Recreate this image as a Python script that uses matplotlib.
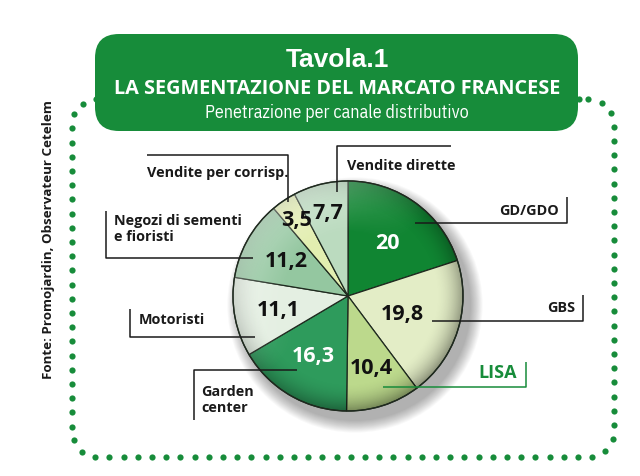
import matplotlib
matplotlib.use('Agg')
import matplotlib.pyplot as plt
import numpy as np
from matplotlib.patches import FancyBboxPatch, Circle

# dati (Promojardin, Observateur Cetelem)
canali = ['GD/GDO', 'GBS', 'LISA', 'Garden\ncenter', 'Motoristi',
          'Negozi di sementi\ne fioristi', 'Vendite per corrisp.', 'Vendite dirette']
quote = [20, 19.8, 10.4, 16.3, 11.1, 11.2, 3.5, 7.7]
etichette = ['20', '19,8', '10,4', '16,3', '11,1', '11,2', '3,5', '7,7']

colori = ['#108532', '#e3edc6', '#bcd98c', '#2e9b5c', '#e4efe2', '#94c7a0', '#e2eeb0', '#bbdbbf']
col_valori = ['white', '#111111', '#111111', 'white', '#111111', '#111111', '#111111', '#111111']
dist_valori = [0.58, 0.5, 0.65, 0.6, 0.62, 0.62, 0.8, 0.75]

COND = dict(family=['Open Sans', 'DejaVu Sans'], fontstretch='condensed', fontweight='bold')
COND_REG = dict(family=['IBM Plex Sans Condensed', 'Open Sans', 'DejaVu Sans'], fontweight='normal')
VERDE = '#178c3a'

# posizione testo e linea di richiamo per ogni canale (pixel)
richiami = [
    ((559, 211), 'right', [(415, 224), (567, 224), (567, 198)]),
    ((575, 308), 'right', [(432, 322), (583, 322), (583, 296)]),
    ((517, 373), 'right', [(383, 388), (526, 388), (526, 363)]),
    ((201, 400), 'left', [(297, 371), (194, 371), (194, 421)]),
    ((139, 320), 'left', [(255, 338), (130, 338), (130, 310)]),
    ((114, 229), 'left', [(253, 259), (106, 259), (106, 212)]),
    ((147, 173), 'left', [(147, 156), (288, 156), (288, 203)]),
    ((347, 166), 'left', [(451, 147), (337, 147), (337, 193)]),
]

W, H = 640, 477
cx, cy, r = 348, 297, 115

fig = plt.figure(figsize=(6.4, 4.77), dpi=100)
ax = fig.add_axes([0, 0, 1, 1])

# bordo a puntini
def rounded_path(x0, x1, y0, y1, rad, n=40):
    pts = []
    corners = [((x1 - rad, y0 + rad), -90, 0), ((x1 - rad, y1 - rad), 0, 90),
               ((x0 + rad, y1 - rad), 90, 180), ((x0 + rad, y0 + rad), 180, 270)]
    for (ccx, ccy), a0, a1 in corners:
        a = np.radians(np.linspace(a0, a1, n))
        pts += list(zip(ccx + rad * np.cos(a), ccy + rad * np.sin(a)))
    pts.append(pts[0])
    return np.array(pts)

path = rounded_path(72, 614, 100, 458, 26)
seg = np.hypot(*np.diff(path, axis=0).T)
s = np.concatenate([[0], np.cumsum(seg)])
passi = np.arange(0, s[-1], 14.2)
px = np.interp(passi, s, path[:, 0])
py = np.interp(passi, s, path[:, 1])
ax.scatter(px, py, s=20, color=VERDE, linewidths=0, zorder=1)

# riquadro titolo
box = FancyBboxPatch((95, 35), 483, 97, boxstyle='round,pad=0,rounding_size=24',
                     facecolor=VERDE, edgecolor='none', zorder=3)
ax.add_patch(box)
ax.text(337, 60, 'Tavola.1', color='white', fontsize=19, fontweight='bold',
        family=['Liberation Sans', 'DejaVu Sans'], ha='center', va='center', zorder=4)
ax.text(337, 89, 'LA SEGMENTAZIONE DEL MARCATO FRANCESE', color='white', fontsize=14.3,
        ha='center', va='center', zorder=4, **COND)
ax.text(337, 113, 'Penetrazione per canale distributivo', color='white', fontsize=13,
        ha='center', va='center', zorder=4, **COND_REG)

# fonte
ax.text(48, 240, 'Fonte: Promojardin, Observateur Cetelem', rotation=90, fontsize=9.6,
        color='#1a1a1a', ha='center', va='center', **COND)

# ombra della torta
for k in range(14):
    ax.add_patch(Circle((cx + 7, cy + 9), r + 1 + k * 0.9, color='k', alpha=0.025,
                        linewidth=0, zorder=1.5))

# torta (asse y invertito: senso orario visivo = antiorario nei dati)
wedges, _ = ax.pie(quote, colors=colori, startangle=-90, counterclock=True,
                   radius=r, center=(cx, cy),
                   wedgeprops=dict(edgecolor='#1f2a1f', linewidth=0.9))
for w in wedges:
    w.set_zorder(2)

# sfumatura 3D
n = 300
gx, gy = np.meshgrid(np.linspace(-1, 1, n), np.linspace(-1, 1, n))
d = np.hypot(gx, gy)
dirn = np.clip((gx + gy) / np.sqrt(2) / np.maximum(d, 1e-6), -1, 1)
scuro = np.zeros((n, n, 4))
scuro[..., 3] = np.clip((d - 0.75) / 0.25, 0, 1) ** 2 * 0.4 * (0.3 + 0.7 * (dirn + 1) / 2)
chiaro = np.ones((n, n, 4))
chiaro[..., 3] = np.clip((d - 0.55) / 0.45, 0, 1) * 0.35 * np.clip(-dirn, 0, 1)
for img in (scuro, chiaro):
    im = ax.imshow(img, extent=(cx - r, cx + r, cy + r, cy - r), origin='upper',
                   zorder=2.5, interpolation='bilinear')
    im.set_clip_path(Circle((cx, cy), r, transform=ax.transData))
ax.add_patch(Circle((cx, cy), r, fill=False, edgecolor='#1f2a1f', linewidth=1.0, zorder=2.6))

# valori nelle fette
for w, lab, c, f in zip(wedges, etichette, col_valori, dist_valori):
    a = np.radians((w.theta1 + w.theta2) / 2)
    ax.text(cx + f * r * np.cos(a), cy + f * r * np.sin(a), lab, color=c, fontsize=15.5,
            ha='center', va='center', zorder=3, **COND)

# etichette e linee di richiamo
for nome, (pos, ha, linea) in zip(canali, richiami):
    colore = VERDE if nome == 'LISA' else '#1a1a1a'
    lx, ly = zip(*linea)
    ax.plot(lx, ly, color=colore, linewidth=1.1, zorder=3.2, solid_capstyle='butt')
    ax.text(pos[0], pos[1], nome, color=colore, fontsize=13 if nome == 'LISA' else 10.4,
            ha=ha, va='center', linespacing=1.1, zorder=3.2, **COND)

ax.set_xlim(0, W)
ax.set_ylim(H, 0)
ax.set_aspect('equal')
ax.axis('off')

fig.savefig('out.png', dpi=100, facecolor='white')
